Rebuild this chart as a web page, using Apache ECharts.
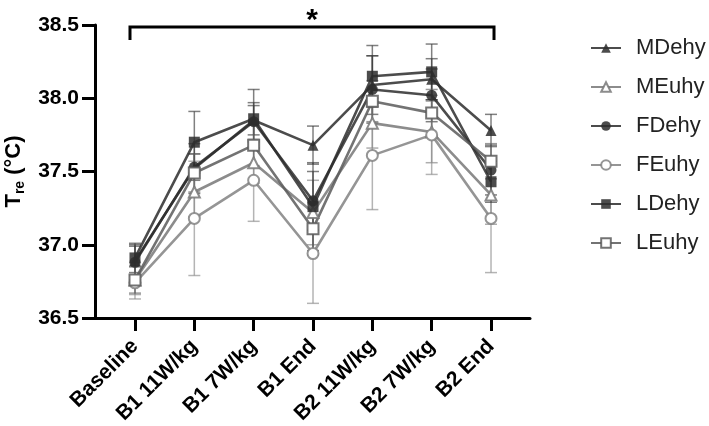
<!DOCTYPE html>
<html>
<head>
<meta charset="utf-8">
<script src="https://cdn.jsdelivr.net/npm/echarts@6/dist/echarts.min.js"></script>
<style>html,body{margin:0;padding:0;background:#fff}#c{width:709px;height:426px}</style>
</head>
<body>
<div id="c"></div>
<script>
const categories = ['Baseline', 'B1 11W/kg', 'B1 7W/kg', 'B1 End', 'B2 11W/kg', 'B2 7W/kg', 'B2 End'];
const yTicks = [36.5, 37.0, 37.5, 38.0, 38.5];
const seriesNames = ['MDehy', 'MEuhy', 'FDehy', 'FEuhy', 'LDehy', 'LEuhy'];

const mDehy   = [36.89, 37.52, 37.85, 37.68, 38.09, 38.13, 37.78];
const mDehySD = [0.10, 0.17, 0.10, 0.13, 0.20, 0.14, 0.11];
const mEuhy   = [36.76, 37.36, 37.56, 37.22, 37.83, 37.77, 37.34];
const mEuhySD = [0.10, 0.17, 0.14, 0.22, 0.17, 0.21, 0.20];
const fDehy   = [36.88, 37.53, 37.84, 37.30, 38.06, 38.02, 37.51];
const fDehySD = [0.12, 0.09, 0.13, 0.20, 0.23, 0.18, 0.17];
const fEuhy   = [36.74, 37.18, 37.44, 36.94, 37.61, 37.75, 37.18];
const fEuhySD = [0.11, 0.39, 0.28, 0.34, 0.37, 0.27, 0.37];
const lDehy   = [36.91, 37.70, 37.86, 37.26, 38.15, 38.18, 37.43];
const lDehySD = [0.10, 0.21, 0.20, 0.30, 0.21, 0.19, 0.14];
const lEuhy   = [36.76, 37.49, 37.68, 37.11, 37.98, 37.90, 37.57];
const lEuhySD = [0.09, 0.13, 0.14, 0.18, 0.14, 0.16, 0.12];

const significance = ['*', 0, 6]; // label, from category index, to category index

const means = [mDehy, mEuhy, fDehy, fEuhy, lDehy, lEuhy];
const sds = [mDehySD, mEuhySD, fDehySD, fEuhySD, lDehySD, lEuhySD];
const symbols = ['triangle', 'emptyTriangle', 'circle', 'emptyCircle', 'rect', 'emptyRect'];
const colors = ['rgba(45,45,45,0.85)', 'rgba(120,120,120,0.85)', 'rgba(45,45,45,0.85)', 'rgba(130,130,130,0.85)', 'rgba(45,45,45,0.85)', 'rgba(90,90,90,0.85)'];
const errColors = ['rgba(60,60,60,0.65)', 'rgba(130,130,130,0.65)', 'rgba(60,60,60,0.65)', 'rgba(140,140,140,0.65)', 'rgba(60,60,60,0.65)', 'rgba(100,100,100,0.65)'];

const FONT = 'Liberation Sans, Arial, Helvetica, sans-serif';
const series = [];

means.forEach((m, k) => {
  series.push({
    type: 'custom',
    name: seriesNames[k] + ' SD',
    data: m.map((v, i) => [i, v - sds[k][i], v + sds[k][i]]),
    encode: { x: 0, y: [1, 2] },
    z: 1,
    silent: true,
    renderItem: function (params, api) {
      const x = api.value(0);
      const lo = api.coord([x, api.value(1)]);
      const hi = api.coord([x, api.value(2)]);
      const hw = 6;
      const st = { stroke: errColors[k], lineWidth: 1.5, fill: null };
      return {
        type: 'group',
        children: [
          { type: 'line', shape: { x1: lo[0], y1: lo[1], x2: hi[0], y2: hi[1] }, style: st },
          { type: 'line', shape: { x1: lo[0] - hw, y1: lo[1], x2: lo[0] + hw, y2: lo[1] }, style: st },
          { type: 'line', shape: { x1: hi[0] - hw, y1: hi[1], x2: hi[0] + hw, y2: hi[1] }, style: st }
        ]
      };
    }
  });
});

means.forEach((m, k) => {
  const empty = symbols[k].indexOf('empty') === 0;
  series.push({
    type: 'line',
    name: seriesNames[k],
    data: m.map((v, i) => [i, v]),
    symbol: symbols[k],
    symbolSize: 11,
    showAllSymbol: true,
    z: 3,
    lineStyle: { color: colors[k], width: 2.6 },
    itemStyle: empty ? { color: colors[k], borderColor: colors[k], borderWidth: 2.2 } : { color: colors[k], borderColor: colors[k], borderWidth: 0 },
    emphasis: { disabled: true }
  });
});

series.push({
  type: 'custom',
  name: 'significance',
  data: [[significance[1], significance[2]]],
  encode: { x: [0, 1] },
  clip: false,
  silent: true,
  z: 5,
  renderItem: function (params, api) {
    const a = api.coord([api.value(0), 37]);
    const b = api.coord([api.value(1), 37]);
    const top = params.coordSys.y + 2;
    const x1 = a[0] - 5, x2 = b[0] + 3;
    const st = { stroke: '#000', lineWidth: 3, fill: null };
    return {
      type: 'group',
      children: [
        { type: 'polyline', shape: { points: [[x1, top + 13], [x1, top], [x2, top], [x2, top + 13]] }, style: st },
        { type: 'text', style: { text: significance[0], x: (x1 + x2) / 2, y: top - 21, align: 'center', verticalAlign: 'top', font: 'bold 30px ' + FONT, fill: '#000' } }
      ]
    };
  }
});

const chart = echarts.init(document.getElementById('c'), null, { renderer: 'canvas' });
chart.setOption({
  animation: false,
  backgroundColor: '#fff',
  grid: { left: 95, right: 179, top: 25, bottom: 108, containLabel: false, outerBoundsMode: 'none' },
  legend: {
    data: seriesNames,
    orient: 'vertical',
    left: 590,
    top: 37,
    padding: 0,
    itemWidth: 30,
    itemHeight: 12,
    itemGap: 17,
    textStyle: { fontFamily: FONT, fontSize: 22, color: '#222', padding: [0, 0, 0, 10] },
    selectedMode: false
  },
  xAxis: {
    type: 'value',
    min: -0.674,
    max: 6.657,
    splitLine: { show: false },
    axisLine: { show: true, onZero: false, lineStyle: { color: '#000', width: 3 } },
    axisTick: { show: true, customValues: categories.map((c, i) => i), length: 13, lineStyle: { color: '#000', width: 3 } },
    axisLabel: {
      customValues: categories.map((c, i) => i),
      formatter: v => categories[Math.round(v)],
      rotate: 45,
      margin: 25,
      fontFamily: FONT,
      fontWeight: 'bold',
      fontSize: 21,
      color: '#000'
    }
  },
  yAxis: {
    type: 'value',
    min: yTicks[0],
    max: yTicks[yTicks.length - 1],
    interval: 0.5,
    splitLine: { show: false },
    axisLine: { show: true, onZero: false, lineStyle: { color: '#000', width: 3 } },
    axisTick: { show: true, length: 13, lineStyle: { color: '#000', width: 3 } },
    axisLabel: { formatter: v => v.toFixed(1), margin: 16, fontFamily: FONT, fontWeight: 'bold', fontSize: 21, color: '#000' },
    name: '{a|T}{b|re}{a| (°C)}',
    nameLocation: 'middle',
    nameRotate: 90,
    nameGap: 66,
    nameTextStyle: {
      rich: {
        a: { fontFamily: FONT, fontWeight: 'bold', fontSize: 22, color: '#000', lineHeight: 26 },
        b: { fontFamily: FONT, fontWeight: 'bold', fontSize: 14, color: '#000', lineHeight: 26, verticalAlign: 'bottom', padding: [10, 0, 0, 0] }
      }
    }
  },
  series: series
});
</script>
</body>
</html>
